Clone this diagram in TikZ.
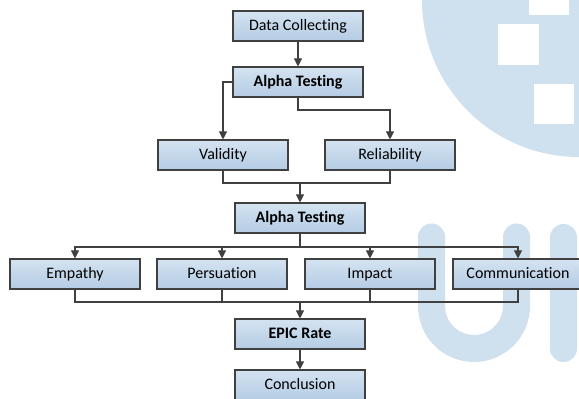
\documentclass[tikz,border=0pt]{standalone}
\usepackage{fontspec}
\setmainfont{Carlito}[Ligatures=NoCommon]
\usetikzlibrary{arrows.meta,shadows,calc}
\definecolor{wm}{RGB}{207,224,239}
\definecolor{edgegray}{RGB}{64,64,64}
\definecolor{boxtop}{RGB}{212,227,241}
\definecolor{boxbot}{RGB}{180,204,228}
\tikzset{
  flowbox/.style={draw=edgegray, line width=0.8pt, top color=boxtop, bottom color=boxbot,
    minimum width=97.5pt, minimum height=22.5pt, inner sep=0pt,
    text height=0.8em, text depth=0.15em,
    font=\fontsize{12}{14}\selectfont,
    drop shadow={shadow xshift=1pt, shadow yshift=-1pt, opacity=0.25, fill=gray}},
  boldbox/.style={flowbox, font=\fontsize{12}{14}\selectfont\bfseries},
  conn/.style={draw=edgegray, line width=0.8pt},
  arr/.style={conn, -{Triangle[length=6pt,width=6pt]}},
}
\begin{document}
\begin{tikzpicture}[x=0.75pt,y=-0.75pt]
\useasboundingbox (0,0) rectangle (579,399);
\clip (0,0) rectangle (579,399);
% watermark
\fill[wm] (579,0) circle[radius=157];
\fill[white] (529,-5) rectangle (569,15);
\fill[white] (498,24) rectangle (539,65);
\fill[white] (534,84) rectangle (574,124);
\draw[wm, line width=20.25pt, line cap=round] (431.5,237) -- (431.5,306) arc[start angle=180, end angle=0, radius=42.5] -- (516.5,237);
\fill[wm, rounded corners=10pt] (550,224) rectangle (577,362);
% nodes
\node[flowbox] (dc) at (298,26) {Data Collecting};
\node[boldbox] (a1) at (298,82) {Alpha Testing};
\node[flowbox] (val) at (223,155) {Validity};
\node[flowbox] (rel) at (390,155) {Reliability};
\node[boldbox] (a2) at (300,218) {Alpha Testing};
\node[flowbox] (emp) at (75,274) {Empathy};
\node[flowbox] (per) at (222,274) {Persuation};
\node[flowbox] (imp) at (370,274) {Impact};
\node[flowbox] (com) at (518,274) {Communication};
\node[boldbox] (epic) at (300,334) {EPIC Rate};
\node[flowbox] (con) at (300,385) {Conclusion};
% bus coordinates
\coordinate (j1) at (298,110);
\coordinate (j2) at (300,183);
\coordinate (j3) at (300,247);
\coordinate (j4) at (300,302);
% connectors
\draw[arr] (dc) -- (a1);
\draw[arr] (a1.west) -| (val.north);
\draw[arr] (a1.south) -- (j1) -| (rel.north);
\draw[conn] (val.south) |- (j2) -| (rel.south);
\draw[arr] (j2) -- (a2.north);
\draw[conn] (a2.south) -- (j3);
\draw[arr] (j3) -| (emp.north);
\draw[arr] (j3) -| (per.north);
\draw[arr] (j3) -| (imp.north);
\draw[arr] (j3) -| (com.north);
\draw[conn] (emp.south) |- (j4);
\draw[conn] (per.south) |- (j4);
\draw[conn] (imp.south) |- (j4);
\draw[conn] (com.south) |- (j4);
\draw[arr] (j4) -- (epic.north);
\draw[arr] (epic) -- (con);
\end{tikzpicture}
\end{document}
